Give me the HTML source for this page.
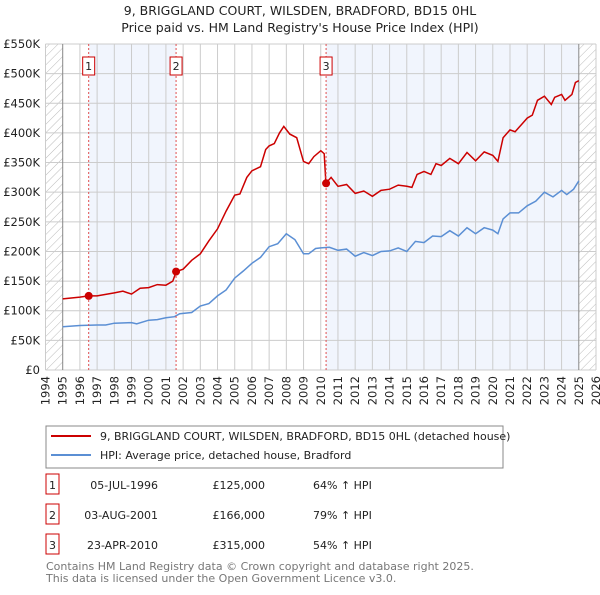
<!DOCTYPE html>
<html><head><meta charset="utf-8"><style>
body{margin:0;background:#fff;font-family:"Liberation Sans","DejaVu Sans",sans-serif;}
svg text{font-family:"DejaVu Sans","Liberation Sans",sans-serif;}
</style></head><body>
<svg id="c" width="600" height="590" viewBox="0 0 600 590">
<defs><pattern id="hatch" width="6" height="6" patternUnits="userSpaceOnUse" patternTransform="rotate(45)"><line x1="0" y1="0" x2="0" y2="6" stroke="#bbb" stroke-width="1"/></pattern></defs>
<text x="300" y="15" text-anchor="middle" font-size="12.5" fill="#222">9, BRIGGLAND COURT, WILSDEN, BRADFORD, BD15 0HL</text>
<text x="300" y="32" text-anchor="middle" font-size="12.5" fill="#222">Price paid vs. HM Land Registry's House Price Index (HPI)</text>
<g id="plot"></g>
<rect x="46" y="426" width="457" height="42" fill="#fff" stroke="#888"/>
<line x1="51" y1="436" x2="91" y2="436" stroke="#cc0000" stroke-width="2"/>
<text x="100" y="440" font-size="11" fill="#222">9, BRIGGLAND COURT, WILSDEN, BRADFORD, BD15 0HL (detached house)</text>
<line x1="51" y1="455" x2="91" y2="455" stroke="#5b8fd4" stroke-width="2"/>
<text x="100" y="459" font-size="11" fill="#222">HPI: Average price, detached house, Bradford</text>
<g font-size="11" fill="#222" id="tbl"></g>
<text x="46" y="570" font-size="11" fill="#777">Contains HM Land Registry data © Crown copyright and database right 2025.</text>
<text x="46" y="582" font-size="11" fill="#777">This data is licensed under the Open Government Licence v3.0.</text>
</svg>
<script>
const redX=[1995,1996,1996.5,1997,1998,1998.5,1999,1999.5,2000,2000.5,2001,2001.4,2001.6,2002,2002.5,2003,2003.5,2004,2004.5,2005,2005.3,2005.7,2006,2006.5,2006.8,2007,2007.3,2007.6,2007.85,2008.2,2008.6,2009,2009.3,2009.6,2010,2010.2,2010.3,2010.6,2011,2011.5,2012,2012.5,2013,2013.5,2014,2014.5,2015,2015.3,2015.6,2016,2016.4,2016.7,2017,2017.5,2018,2018.5,2019,2019.5,2020,2020.3,2020.6,2021,2021.3,2021.7,2022,2022.3,2022.6,2023,2023.4,2023.6,2024,2024.2,2024.6,2024.8,2025];
const redY=[120,123,125,125,130,133,128,138,139,144,143,150,166,170,185,196,218,238,268,295,297,325,336,343,372,378,382,400,411,398,392,352,348,360,370,365,315,325,310,313,298,302,293,303,305,312,310,308,330,335,330,348,345,357,348,367,353,368,362,352,392,405,402,415,425,430,455,462,448,460,465,455,465,485,488];
const hpiX=[1995,1996,1997,1997.5,1998,1999,1999.3,2000,2000.5,2001,2001.5,2001.8,2002.5,2003,2003.5,2004,2004.5,2005,2005.5,2006,2006.5,2007,2007.5,2008,2008.5,2009,2009.3,2009.7,2010,2010.5,2011,2011.5,2012,2012.5,2013,2013.5,2014,2014.5,2015,2015.5,2016,2016.5,2017,2017.5,2018,2018.5,2019,2019.5,2020,2020.3,2020.6,2021,2021.5,2022,2022.5,2023,2023.5,2024,2024.3,2024.7,2025];
const hpiY=[73,75,76,76,79,80,78,84,85,88,90,95,97,108,112,125,135,155,167,180,190,208,213,230,220,196,196,205,206,207,202,204,192,198,193,200,201,206,200,217,215,226,225,235,226,240,230,240,236,230,255,265,265,277,285,300,292,303,296,305,319];
const saleLabels=["1","2","3"];
const saleX=[1996.51,2001.59,2010.31];
const saleY=[125,166,315];
const saleDates=["05-JUL-1996","03-AUG-2001","23-APR-2010"];
const salePrices=["£125,000","£166,000","£315,000"];
const saleHpi=["64% ↑ HPI","79% ↑ HPI","54% ↑ HPI"];
const yTicks=[0,50,100,150,200,250,300,350,400,450,500,550];
const yTickLabels=["£0","£50K","£100K","£150K","£200K","£250K","£300K","£350K","£400K","£450K","£500K","£550K"];
const xYears=[1994,1995,1996,1997,1998,1999,2000,2001,2002,2003,2004,2005,2006,2007,2008,2009,2010,2011,2012,2013,2014,2015,2016,2017,2018,2019,2020,2021,2022,2023,2024,2025,2026];

const NS="http://www.w3.org/2000/svg";
const X=y=>45.5+(y-1994)*(550.5/32);
const Y=v=>370-v*(326/550);
const plot=document.getElementById('plot');
function mk(t,a,p){const e=document.createElementNS(NS,t);for(const k in a)e.setAttribute(k,a[k]);(p||plot).appendChild(e);return e;}
let e;
e=mk('rect',{x:X(1994),y:Y(550),width:X(1995)-X(1994),height:Y(0)-Y(550),fill:'url(#hatch)'});


e=mk('rect',{x:X(2025),y:Y(550),width:X(2026)-X(2025),height:Y(0)-Y(550),fill:'url(#hatch)'});


e=mk('rect',{x:X(saleX[0]),y:Y(550),width:X(saleX[1])-X(saleX[0]),height:Y(0)-Y(550),fill:'#eef3fd',opacity:0.8});


e=mk('rect',{x:X(saleX[2]),y:Y(550),width:X(2025)-X(saleX[2]),height:Y(0)-Y(550),fill:'#eef3fd',opacity:0.8});


yTicks.forEach((v,i)=>{
 e=mk('line',{x1:X(1994),x2:X(2026),y1:Y(v),y2:Y(v),stroke:'#ccc'});
 
 
 e=mk('text',{x:40,y:Y(v)+4,'text-anchor':'end','font-size':11.5,fill:'#222'});
 e.textContent=yTickLabels[i];
 
 
});
xYears.forEach(yr=>{
 const edge=(yr===1995||yr===2025);
 e=mk('line',{x1:X(yr),x2:X(yr),y1:Y(550),y2:Y(0),stroke:edge?'#888':'#ccc'});
 
 
 e=mk('text',{x:0,y:0,'text-anchor':'end','font-size':11.5,fill:'#222',transform:`translate(${X(yr)+4},376) rotate(-90)`});
 e.textContent=yr;
 
 
});
function path(xs,ys){return xs.map((x,i)=>(i?'L':'M')+X(x).toFixed(1)+','+Y(ys[i]).toFixed(1)).join('');}
e=mk('path',{d:path(hpiX,hpiY),fill:'none',stroke:'#5b8fd4','stroke-width':1.5});


e=mk('path',{d:path(redX,redY),fill:'none',stroke:'#cc0000','stroke-width':1.5});


saleX.forEach((sx,i)=>{
 e=mk('line',{x1:X(sx),x2:X(sx),y1:Y(550),y2:Y(0),stroke:'#e05050','stroke-dasharray':'2,2','stroke-width':1});
 
 
 e=mk('circle',{cx:X(sx),cy:Y(saleY[i]),r:4,fill:'#cc0000'});
 
 
 e=mk('rect',{x:X(sx)-6,y:57,width:12,height:18,fill:'#fff',stroke:'#cc0000'});
 
 
 e=mk('text',{x:X(sx),y:70,'text-anchor':'middle','font-size':11,fill:'#222'});
 e.textContent=saleLabels[i];
 
 
});
const tbl=document.getElementById('tbl');
saleLabels.forEach((l,i)=>{
 const cy=486+i*30;
 e=mk('rect',{x:46,y:cy-12,width:13,height:20,fill:'#fff',stroke:'#cc0000'},tbl);
 
 
 e=mk('text',{x:52.5,y:cy+3,'text-anchor':'middle'},tbl);e.textContent=l;
 
 
 e=mk('text',{x:158,y:cy+3,'text-anchor':'end'},tbl);e.textContent=saleDates[i];
 
 
 e=mk('text',{x:265,y:cy+3,'text-anchor':'end'},tbl);e.textContent=salePrices[i];
 
 
 e=mk('text',{x:313,y:cy+3},tbl);e.textContent=saleHpi[i];
 
 
});
</script>
</body></html>
